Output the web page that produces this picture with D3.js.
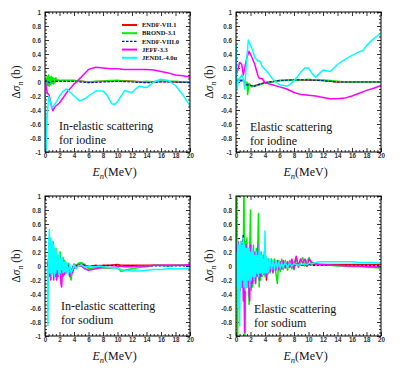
<!DOCTYPE html>
<html><head><meta charset="utf-8">
<script src="https://cdn.jsdelivr.net/npm/d3@7"></script>
<style>
body{margin:0;background:#fff;}
svg{display:block;}
.tk text{font-family:"Liberation Sans",Arial,sans-serif;font-weight:bold;font-size:6.3px;fill:#333;}
</style></head>
<body><svg id="c" width="407" height="375"></svg>
<script>
// ---------------- data ----------------
const seriesNames = ['ENDF-VII.1','BROND-3.1','ENDF-VIII.0','JEFF-3.3','JENDL-4.0u'];
const xTicks = [0,2,4,6,8,10,12,14,16,18,20];
const yTicks = [-1,-0.8,-0.6,-0.4,-0.2,0,0.2,0.4,0.6,0.8,1];

// In-elastic, iodine  ([E, dSigma])
const inelI_endf71 = [[0,0],[0.2,-0.02],[0.4,0.03],[0.6,0],[0.8,0.02],[1,0.01],[1.5,0.02],[2,0.02],[4,0.02],[6,0],[8,0.01],[10,0.02],[12,0.01],[14,0],[16,0.01],[18,0],[20,0]];
const inelI_brond = [[0,0],[0.1,0.05],[0.2,-0.08],[0.3,0.08],[0.4,-0.05],[0.5,0.1],[0.6,-0.06],[0.7,0.07],[0.8,-0.04],[0.9,0.08],[1.0,-0.02],[1.1,0.06],[1.2,-0.03],[1.3,0.05],[1.4,0],[1.5,0.06],[1.6,0.01],[1.7,0.03],[2,0.02],[3,0.02],[4,0.02],[5,0.01],[6,0],[7,0.01],[8,0.01],[9,0.02],[10,0.02],[11,0.01],[12,0.01],[13,0],[14,0.01],[15,0],[16,0.01],[17,0.01],[18,0.01],[19,0],[20,0]];
const inelI_endf80 = [[0,0],[0.3,0.02],[0.6,-0.01],[1,0.01],[2,0.01],[4,0.01],[6,-0.01],[8,0],[10,0.01],[12,0],[14,-0.01],[16,0],[18,0],[20,-0.01]];
const inelI_jeff = [[0.05,0],[0.3,-0.15],[0.6,-0.2],[0.9,-0.35],[1.1,-0.41],[1.4,-0.35],[2,-0.3],[3,-0.15],[4,-0.03],[4.5,0.02],[5,0.07],[6,0.18],[7,0.21],[8,0.2],[9,0.19],[10,0.19],[11,0.18],[12,0.18],[13,0.18],[14,0.18],[15,0.17],[16,0.15],[17,0.13],[18,0.1],[19,0.09],[20,0.07]];
const inelI_jendl = [[0,0],[0.15,-1.0],[0.3,-0.5],[0.5,-0.2],[0.8,-0.3],[1.0,-0.37],[1.3,-0.32],[1.6,-0.28],[2,-0.2],[2.5,-0.13],[3,-0.1],[3.5,-0.15],[4,-0.2],[4.8,-0.27],[5.5,-0.24],[6,-0.2],[7,-0.13],[8,-0.13],[8.5,-0.18],[9.2,-0.31],[9.6,-0.32],[10,-0.28],[10.5,-0.2],[11,-0.12],[11.5,-0.14],[12,-0.15],[12.5,-0.1],[13,-0.06],[13.5,-0.07],[14,-0.08],[14.5,-0.04],[15,0],[16,0.04],[16.5,0.03],[17,0.02],[18,-0.05],[19,-0.18],[20,-0.34]];

// Elastic, iodine
const elI_endf71 = [[0,0.02],[0.5,0.03],[1,0.02],[1.5,-0.02],[2,-0.05],[2.5,-0.06],[3,-0.04],[4,-0.01],[6,0.02],[8,0.03],[10,0.03],[12,0.02],[14,0],[16,0],[18,0],[20,0]];
const elI_brond = [[0,0.02],[0.3,0.04],[0.6,0.01],[1.0,0.03],[1.3,-0.05],[1.5,0],[1.6,-0.18],[1.8,-0.02],[2.2,-0.07],[2.6,-0.05],[3,-0.05],[4,-0.01],[5,0],[6,0.02],[7,0.02],[8,0.03],[9,0.03],[10,0.04],[11,0.03],[12,0.03],[13,0.02],[14,0.01],[15,0],[16,0],[17,0],[18,0],[19,0],[20,0]];
const elI_endf80 = [[0,0.01],[0.5,0.02],[1,0.02],[1.5,-0.04],[2,-0.05],[2.5,-0.06],[3,-0.04],[4,-0.01],[6,0.02],[8,0.03],[10,0.03],[12,0.02],[14,0],[16,0],[18,0],[20,0]];
const elI_jeff = [[0,0.1],[0.2,0.15],[0.5,0.28],[0.8,0.25],[1.0,0.1],[1.2,0.2],[1.5,0.35],[1.8,0.44],[2.2,0.35],[2.6,0.25],[3.0,0.1],[3.2,0.05],[3.6,0.05],[4,-0.01],[5,-0.04],[6,-0.07],[7,-0.1],[8,-0.15],[9,-0.18],[10,-0.19],[11,-0.2],[12,-0.22],[13,-0.24],[14,-0.24],[15,-0.23],[16,-0.2],[17,-0.16],[18,-0.12],[19,-0.09],[20,-0.05]];
const elI_jendl = [[0,0.55],[0.15,-0.12],[0.3,0],[0.5,0.05],[0.8,0.1],[1.0,0.05],[1.2,-0.1],[1.5,0.35],[1.7,0.6],[2.0,0.52],[2.3,0.45],[2.6,0.35],[3.0,0.3],[3.3,0.3],[3.6,0.22],[4.0,0.18],[4.5,0.12],[5,0.05],[5.5,0],[6,-0.04],[7,-0.06],[7.5,-0.03],[8,0.02],[8.5,0.08],[9,0.15],[9.5,0.2],[10,0.2],[10.5,0.12],[11,0.07],[11.5,0.12],[12,0.17],[12.5,0.16],[13,0.15],[14,0.25],[15,0.32],[16,0.38],[17,0.43],[17.5,0.45],[18,0.52],[19,0.62],[20,0.7]];

// In-elastic, sodium (shared energy grid)
const inelNa_E = [0.35,0.4,0.5,0.6,0.7,0.8,0.9,1.0,1.1,1.2,1.3,1.4,1.5,1.6,1.7,1.8,1.9,2.0,2.1,2.2,2.3,2.4,2.5,2.6,2.7,2.8,2.9,3.0,3.2,3.4,3.6,3.8,4.0,4.3,4.6,5.0,5.5,6,6.5,7,7.5,8,9,10,10.5,11,12,13,14,15,16,17,18,19,20];
const inelNa_endf71 = [0,0,0.1,-0.05,0.2,-0.05,0.15,0,0.2,-0.05,0.15,-0.05,0.15,-0.05,0.1,0,0.08,-0.05,0.1,-0.08,0.05,-0.05,0.08,-0.03,0.05,-0.05,0.02,-0.03,0.02,-0.06,-0.1,-0.03,0.02,0.01,0.03,0.03,0.01,-0.01,0,0.01,0,0.01,0.01,0.02,0.01,0.01,0.01,0.01,0.01,0.01,0.01,0.01,0.01,0.01,0.01];
const inelNa_brond = [0,0,0.15,-0.1,0.3,-0.1,0.2,-0.05,0.35,-0.1,0.2,-0.08,0.25,-0.1,0.15,-0.05,0.1,-0.1,0.2,-0.15,0.1,-0.1,0.12,-0.05,0.08,-0.08,0.03,-0.05,0.04,-0.12,-0.2,-0.05,0.03,0,0.04,0.05,0.02,-0.04,-0.03,-0.02,-0.02,-0.03,-0.03,-0.02,-0.08,-0.06,-0.04,-0.02,-0.01,0.01,0.01,0,0.01,0.01,0.01];
const inelNa_endf80 = [0,0,0.08,-0.08,0.15,-0.1,0.12,-0.05,0.15,-0.08,0.1,-0.06,0.12,-0.08,0.08,-0.04,0.06,-0.08,0.08,-0.1,0.04,-0.06,0.06,-0.04,0.04,-0.05,0.02,-0.03,0.02,-0.05,-0.08,-0.02,0.01,0,0.02,0.02,0.01,0,0,0,0.01,0,0.01,0.01,0,0,0,0,0,0,0,0,0,0,0];
const inelNa_jeff = [0,-0.05,0.05,-0.15,0.15,-0.2,0.1,-0.1,0.1,-0.2,0.05,-0.15,0.08,-0.2,0,-0.15,0.05,-0.1,-0.05,-0.25,-0.3,-0.05,-0.15,0,-0.12,-0.02,-0.1,-0.03,-0.08,-0.15,-0.08,-0.1,-0.03,-0.02,0,0,-0.04,-0.06,-0.05,-0.04,-0.03,-0.02,-0.02,-0.01,0,-0.01,-0.01,0,0,0.01,0.01,0.01,0.01,0.01,0.02];
const inelNa_jendl = [0,-0.85,0.3,0.52,-0.1,0.4,-0.15,0.35,-0.1,0.3,-0.15,0.25,-0.1,0.2,-0.05,0.15,-0.12,0.2,-0.1,0.1,-0.05,0.12,-0.1,0.05,-0.08,0.06,-0.1,0.05,-0.12,0.03,-0.1,-0.05,0.02,-0.04,0,0.02,-0.02,0,-0.01,-0.01,0,-0.01,-0.02,-0.03,-0.05,-0.06,-0.07,-0.07,-0.06,-0.05,-0.05,-0.04,-0.04,-0.04,-0.03];

// Elastic, sodium (shared energy grid)
const elNa_E = [0,0.1,0.2,0.3,0.4,0.5,0.6,0.7,0.8,0.9,
  1.0,1.1,1.2,1.3,1.4,1.5,1.6,1.7,1.8,1.9,
  2.0,2.1,2.2,2.3,2.4,2.5,2.6,2.7,2.8,2.9,
  3.0,3.1,3.2,3.3,3.4,3.5,3.6,3.7,3.8,3.9,
  4.0,4.1,4.2,4.3,4.4,4.5,
  4.7,4.9,5.1,5.3,5.5,5.7,5.9,6.1,6.3,6.5,
  6.8,7.1,7.4,7.7,8.0,8.3,8.6,8.9,9.2,9.5,9.8,10.1,10.4,10.7,
  11,11.5,12,13,14,15,16,17,18,19,20];
const elNa_endf71 = [0,0.2,-0.2,0.25,-0.2,0.2,-0.2,0.25,-0.2,0.2,
  -0.15,0.4,-0.3,0.3,-0.2,0.25,-0.2,0.15,-0.3,0.2,
  0.3,-0.2,0.15,-0.2,0.2,-0.15,0.1,-0.15,0.12,-0.1,
  0.15,0.2,-0.15,0.1,-0.1,0.1,-0.1,0.08,-0.08,0.1,
  -0.08,0.08,-0.2,0.05,-0.08,0.05,
  -0.06,0.05,-0.05,0.04,-0.04,0.05,-0.03,0.04,-0.02,0.04,
  -0.02,0.03,-0.01,0.03,0,0.03,0.01,0.02,0.01,0.02,0,0.03,0.02,0.02,
  0.02,0.02,0.02,0.02,0.02,0.02,0.02,0.02,0.02,0.02,0.02];
const elNa_brond = [0,1.5,-1.5,0.3,-0.2,0.2,-0.3,0.35,-0.25,0.3,
  -0.2,1.5,-1.5,0.35,-0.3,0.4,-0.3,0.2,-0.55,0.3,
  0.8,-0.35,0.2,-0.3,0.3,-0.2,0.15,-0.25,0.25,-0.15,
  0.3,0.75,-0.3,0.15,-0.2,0.2,-0.15,0.15,-0.1,0.2,
  -0.15,0.15,-0.1,0.1,-0.12,0.1,
  -0.1,0.1,-0.08,0.1,-0.1,-0.25,0.08,-0.08,0.1,-0.05,
  0.08,-0.06,0.08,-0.04,0.05,0.12,-0.02,0.06,0.12,0,0.08,0.12,0.02,0.05,
  0.03,0.02,0.01,0.01,0,0,-0.01,-0.01,-0.01,-0.02,-0.03];
const elNa_endf80 = [0,0.25,-0.25,0.3,-0.2,0.25,-0.25,0.2,-0.3,0.3,
  0.45,-0.2,0.25,-0.3,0.2,-0.25,0.15,-0.2,0.1,0.2,
  -0.25,0.2,-0.2,0.15,-0.15,0.1,-0.2,0.15,-0.1,0.1,
  -0.1,0.15,-0.1,0.1,-0.15,0.08,-0.1,0.05,-0.12,0.06,
  -0.06,0.05,-0.1,0.04,-0.05,0.03,
  -0.04,0.03,-0.03,0.02,-0.02,0.03,-0.02,0.02,-0.01,0.02,
  0,0.02,0,0.02,0.01,0.02,0.01,0.02,0.01,0.02,0.01,0.02,0.01,0.01,
  0.01,0.01,0.01,0.01,0.01,0.01,0.01,0.01,0.01,0.01,0.01];
const elNa_jeff = [0,0.3,-0.3,0.35,-0.2,0.2,-0.35,0.3,-0.3,0.25,
  -0.5,0.2,-0.95,0.3,-0.3,0.3,-0.25,0.15,-0.4,-0.5,
  0.3,-0.3,0.2,-0.25,0.15,-0.2,0.2,-0.25,0.15,-0.15,
  0.25,0.3,-0.2,0.1,-0.15,0.15,-0.1,0.12,-0.12,0.1,
  -0.1,0.08,-0.15,0.05,-0.1,0.06,
  -0.08,0.06,-0.1,0.05,-0.06,0.08,-0.05,0.06,-0.04,0.08,
  -0.03,0.06,-0.02,0.1,-0.05,0.14,0,0.1,0.04,0.1,0,0.1,0.06,0.04,
  0.03,0.02,0.02,0.01,0.01,0,0,0,-0.01,-0.01,-0.02];
const elNa_jendl = [0.2,-0.3,0.35,-0.6,0.3,-0.85,0.35,-0.3,0.3,-0.2,
  0.4,-0.3,0.3,-0.35,0.25,-0.3,0.3,-0.2,0.25,-0.3,
  0.2,-0.2,0.25,-0.15,0.2,-0.2,0.15,-0.15,0.2,-0.1,
  0.15,-0.15,0.3,-0.1,0.2,-0.1,0.15,-0.12,0.1,-0.1,
  0.5,-0.1,0.12,-0.1,0.1,-0.08,
  0.1,-0.06,0.08,-0.05,0.08,-0.04,0.06,-0.03,0.05,-0.02,
  0.05,-0.02,0.04,0,0.03,0.02,0.01,0.03,0.02,0.03,0.02,0.04,0.03,0.04,
  0.05,0.06,0.06,0.06,0.06,0.06,0.06,0.05,0.05,0.05,0.04];

// ---------------- drawing ----------------
const colors = ['#ff0000','#00ee00','#0000ff','#ff00ff','#00ffff'];
const zip = (E, v) => E.slice(0, Math.min(E.length, v.length)).map((e,i)=>[e, v[i]]);

const panels = [
  {x0:45, y0:12, lab:20, series:[inelI_endf71,inelI_brond,inelI_endf80,inelI_jeff,inelI_jendl],
   txt:['In-elastic scattering','for iodine'], tx:59, ty:130, legend:true},
  {x0:236, y0:12, lab:213, series:[elI_endf71,elI_brond,elI_endf80,elI_jeff,elI_jendl],
   txt:['Elastic scattering','for iodine'], tx:250, ty:131},
  {x0:45, y0:196, lab:20, series:[inelNa_endf71,inelNa_brond,inelNa_endf80,inelNa_jeff,inelNa_jendl].map(v=>zip(inelNa_E,v)),
   txt:['In-elastic scattering','for sodium'], tx:61, ty:310},
  {x0:236, y0:196, lab:213, series:[elNa_endf71,elNa_brond,elNa_endf80,elNa_jeff,elNa_jendl].map(v=>zip(elNa_E,v)),
   txt:['Elastic scattering','for sodium'], tx:254, ty:313}
];
const W = 145, H = 140;
const svg = d3.select('#c');
const defs = svg.append('defs');
const serif = '"Liberation Serif","Times New Roman",serif';

panels.forEach((p, pi) => {
  const x = d3.scaleLinear().domain([0,20]).range([0,W]);
  const y = d3.scaleLinear().domain([-1,1]).range([H,0]);
  const g = svg.append('g').attr('transform', `translate(${p.x0},${p.y0})`);
  defs.append('clipPath').attr('id','clip'+pi).append('rect').attr('width',W).attr('height',H);

  const xMinor = d3.range(0, 20.01, 0.5).filter(v => !xTicks.includes(v));
  const yMinor = d3.range(-1, 1.001, 0.05).map(v=>+v.toFixed(2)).filter(v => !yTicks.some(t=>Math.abs(t-v)<1e-6));

  const fmtY = d => d===0 ? '0' : String(+d.toFixed(1));
  const addAxis = (ax, tr) => {
    const a = g.append('g').attr('class','tk').attr('transform', tr).call(ax);
    a.select('.domain').remove();
    a.selectAll('line').attr('stroke','#000').attr('stroke-width',0.8);
    return a;
  };
  addAxis(d3.axisBottom(x).tickValues(xTicks).tickSize(-4).tickPadding(2).tickFormat(d3.format('d')), `translate(0,${H})`);
  addAxis(d3.axisTop(x).tickValues(xTicks).tickSize(-4).tickFormat(''), 'translate(0,0)');
  addAxis(d3.axisLeft(y).tickValues(yTicks).tickSize(-4).tickPadding(4).tickFormat(fmtY), 'translate(0,0)');
  addAxis(d3.axisRight(y).tickValues(yTicks).tickSize(-4).tickFormat(''), `translate(${W},0)`);
  addAxis(d3.axisBottom(x).tickValues(xMinor).tickSize(-2).tickFormat(''), `translate(0,${H})`);
  addAxis(d3.axisTop(x).tickValues(xMinor).tickSize(-2).tickFormat(''), 'translate(0,0)');
  addAxis(d3.axisLeft(y).tickValues(yMinor).tickSize(-2).tickFormat(''), 'translate(0,0)');
  addAxis(d3.axisRight(y).tickValues(yMinor).tickSize(-2).tickFormat(''), `translate(${W},0)`);

  const line = d3.line().x(d=>x(d[0])).y(d=>y(d[1]));
  const dg = g.append('g').attr('clip-path', `url(#clip${pi})`);
  p.series.forEach((s, si) => {
    dg.append('path').datum(s).attr('d', line).attr('fill','none')
      .attr('stroke', colors[si]).attr('stroke-width', si===2 ? 1.2 : 1.5)
      .attr('stroke-dasharray', si===2 ? '2.5,1.5' : null)
      .attr('stroke-linejoin','round');
  });

  g.append('rect').attr('width',W).attr('height',H).attr('fill','none').attr('stroke','#000').attr('stroke-width',1);

  const t = g.append('text').attr('font-family',serif).attr('font-size',12).attr('fill','#111');
  p.txt.forEach((s,i) => t.append('tspan').attr('x', p.tx - p.x0).attr('y', p.ty - p.y0 + i*14).text(s));

  const yl = svg.append('text').attr('transform', `translate(${p.lab},${p.y0 + H/2}) rotate(-90)`)
    .attr('text-anchor','middle').attr('font-family',serif).attr('font-size',11.5).attr('fill','#111');
  yl.append('tspan').text('Δ');
  yl.append('tspan').attr('font-style','italic').text('σ');
  yl.append('tspan').attr('font-style','italic').attr('font-size',8).attr('dy',3).text('n');
  yl.append('tspan').attr('dy',-3).text(' (b)');

  const xl = svg.append('text').attr('x', p.x0 + W/2 - 3).attr('y', p.y0 + H + 24)
    .attr('text-anchor','middle').attr('font-family',serif).attr('font-size',12).attr('fill','#111');
  xl.append('tspan').attr('font-style','italic').text('E');
  xl.append('tspan').attr('font-style','italic').attr('font-size',8.5).attr('dy',3).text('n');
  xl.append('tspan').attr('dy',-3).text('(MeV)');

  if (p.legend) {
    const lg = g.append('g');
    seriesNames.forEach((n, i) => {
      const yy = 25 + i*8.2 - p.y0;
      lg.append('line').attr('x1',122-p.x0).attr('x2',137-p.x0).attr('y1',yy).attr('y2',yy)
        .attr('stroke',colors[i]).attr('stroke-width', i===2 ? 1.2 : 2)
        .attr('stroke-dasharray', i===2 ? '2.5,1.5' : null);
      lg.append('text').attr('x',142-p.x0).attr('y',yy+2.2)
        .attr('font-family',serif).attr('font-weight','bold')
        .attr('font-size',6.5).attr('fill','#111').text(n);
    });
  }
});
</script></body></html>
